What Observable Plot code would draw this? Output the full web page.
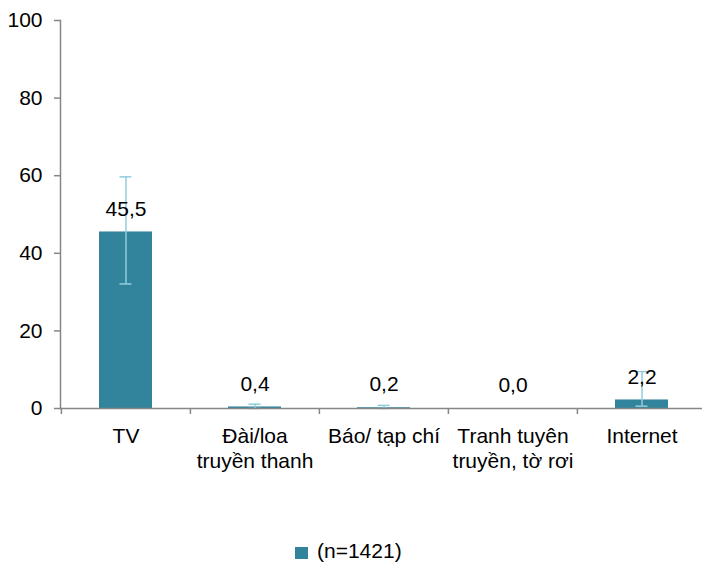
<!DOCTYPE html>
<html>
<head>
<meta charset="utf-8">
<script src="https://cdn.jsdelivr.net/npm/d3@7"></script>
<script src="https://cdn.jsdelivr.net/npm/@observablehq/plot@0.6"></script>
<style>
  body { margin: 0; background: #fff; font-family: "Liberation Sans", Arial, sans-serif; }
  #chart { width: 702px; }
  .legend { height: 44px; position: relative; font-size: 21px; color: #000; }
  .legend .sw { position: absolute; left: 295px; top: 27px; width: 13px; height: 12px; background: #31849b; }
  .legend .lb { position: absolute; left: 317px; top: 18px; line-height: 26px; }
</style>
</head>
<body>
<div id="chart"></div>
<script>
const categories = ["TV", "Đài/loa\ntruyền thanh", "Báo/ tạp chí", "Tranh tuyên\ntruyền, tờ rơi", "Internet"];
const values = [45.5, 0.4, 0.2, 0.0, 2.2];
const errLow = [32.1, 0.0, 0.0, 0.0, 0.6];
const errHigh = [59.7, 1.1, 0.8, 0.0, 9.5];
const yTicks = [0, 20, 40, 60, 80, 100];
const seriesName = "(n=1421)";

const data = categories.map((c, i) => ({cat: c, value: values[i], lo: errLow[i], hi: errHigh[i]}));
const errData = data.filter(d => d.hi > d.lo);

const W = 702, H = 520, mL = 60, mT = 20, mB = 112;
const xRange = [60, 706];
const step = (xRange[1] - xRange[0]) / categories.length;
const barColor = "#31849b";
const errColor = "#92cddc";
const axisColor = "#868686";
const fs = 21;
const fmt = v => v.toFixed(1).replace(".", ",");

const chart = Plot.plot({
  width: W, height: H,
  marginLeft: mL, marginRight: 0, marginTop: mT, marginBottom: mB,
  style: {fontFamily: '"Liberation Sans", Arial, sans-serif', fontSize: fs + "px", color: "#000", background: "#fff"},
  x: {domain: categories, range: xRange, paddingInner: 0.59, paddingOuter: 0.295, label: null},
  y: {domain: [0, 100], label: null},
  marks: [
    Plot.barY(data, {x: "cat", y: "value", fill: barColor}),
    Plot.ruleX(errData, {x: "cat", y1: "lo", y2: "hi", stroke: errColor, strokeWidth: 1.5}),
    Plot.tickY(errData, {x: "cat", y: "hi", stroke: errColor, strokeWidth: 1.5, insetLeft: 20.5, insetRight: 20.5}),
    Plot.tickY(errData, {x: "cat", y: "lo", stroke: errColor, strokeWidth: 1.5, insetLeft: 20.5, insetRight: 20.5}),
    Plot.frame({anchor: "left", stroke: axisColor, strokeWidth: 1.5}),
    Plot.ruleY([0], {stroke: axisColor, strokeWidth: 1.5}),
    Plot.ruleX(categories, {x: d => d, dx: -step / 2, y1: 0, y2: 0, insetBottom: -6, stroke: axisColor, strokeWidth: 1.5}),
    Plot.axisY({ticks: yTicks, tickSize: 6, tickPadding: 12, stroke: axisColor, strokeWidth: 1.5, fontSize: fs, fill: "#000", label: null}),
    Plot.axisX({tickSize: 0, tickPadding: 17, fontSize: fs, lineHeight: 1.19, fill: "#000", label: null}),
    Plot.text(data, {x: "cat", y: "value", text: d => fmt(d.value), dy: -23, fontSize: fs, fill: "#000"})
  ]
});
document.getElementById("chart").appendChild(chart);

const legend = document.createElement("div");
legend.className = "legend";
legend.innerHTML = `<span class="sw"></span><span class="lb"></span>`;
legend.querySelector(".lb").textContent = seriesName;
document.getElementById("chart").appendChild(legend);
</script>
</body>
</html>
